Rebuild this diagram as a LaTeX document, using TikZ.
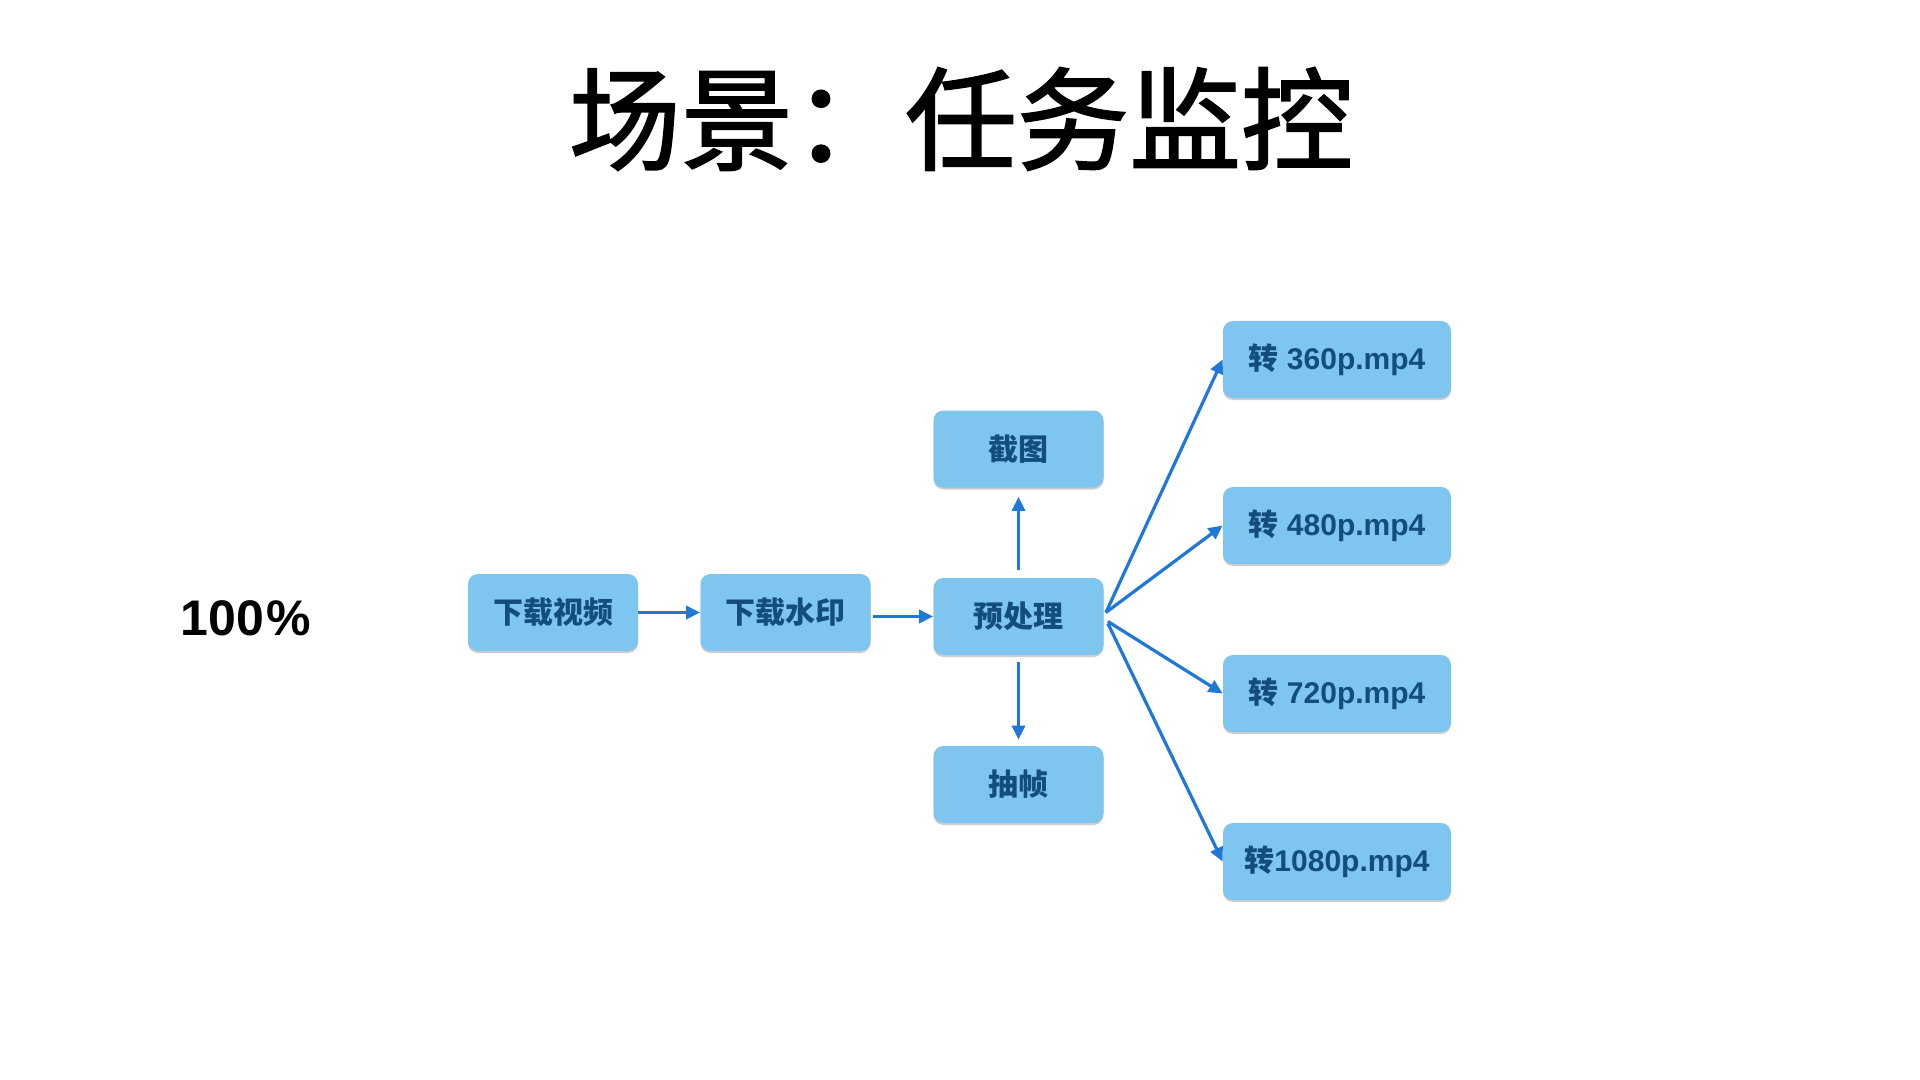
\documentclass[tikz,border=0pt]{standalone}
\usepackage{fontspec}
\setmainfont{Liberation Sans}
\newfontfamily\cjk{Noto Sans CJK SC}
\newfontfamily\cjktitle{Noto Sans CJK SC}[FakeBold=1.6]
\usetikzlibrary{arrows.meta,shadows}
\definecolor{boxfill}{RGB}{126,197,240}
\definecolor{boxtext}{RGB}{18,77,126}
\definecolor{arr}{RGB}{31,120,214}
\begin{document}
\begin{tikzpicture}[x=0.5pt,y=-0.5pt,
  box/.style={rectangle, rounded corners=5pt, fill=boxfill, minimum width=85pt, minimum height=38.5pt, inner sep=0pt,
    font=\fontsize{15}{18}\selectfont\bfseries, text=boxtext,
    drop shadow={shadow xshift=0pt, shadow yshift=-1pt, opacity=0.2, fill=black}},
  wbox/.style={box, minimum width=114pt},
  conn/.style={draw=arr, line width=1.6pt, -{Triangle[length=7pt,width=6.5pt]}}]
\useasboundingbox[fill=white] (0,0) rectangle (1920,1080);

\node (title) at (961,119) {\fontsize{56}{67}\selectfont\cjktitle 场景：任务监控};
\node (pct) at (246,618) {\fontsize{25}{30}\selectfont\bfseries 100\kern1.2pt\%};

\node[box] (dv) at (553,612.5) {\cjk 下载视频};
\node[box] (dw) at (785.5,612.5) {\cjk 下载水印};
\node[box] (pre) at (1018.5,616.5) {\cjk 预处理};
\node[box] (jt) at (1018.5,449) {\cjk 截图};
\node[box] (cz) at (1018.5,784.5) {\cjk 抽帧};
\node[wbox] (t360) at (1337,359.5) {{\cjk 转} 360p.mp4};
\node[wbox] (t480) at (1337,525.5) {{\cjk 转} 480p.mp4};
\node[wbox] (t720) at (1337,693.5) {{\cjk 转} 720p.mp4};
\node[wbox] (t1080) at (1337,861.5) {{\cjk 转}1080p.mp4};

\draw[conn] (dv.east) -- (dw.west);
\draw[conn] ([xshift=1pt]dw.east |- pre.west) -- (pre.west);
\draw[conn, shorten <=4pt, shorten >=4.5pt] (pre.north) -- (jt.south);
\draw[conn, shorten <=3.5pt, shorten >=3pt] (pre.south) -- (cz.north);
\draw[conn] ([xshift=1pt,yshift=2pt]pre.east) -- (t360.west);
\draw[conn] ([xshift=1pt,yshift=2pt]pre.east) -- (t480.west);
\draw[conn] ([xshift=2pt,yshift=-2.5pt]pre.east) -- (t720.west);
\draw[conn] ([xshift=2pt,yshift=-3.5pt]pre.east) -- (t1080.west);
\end{tikzpicture}
\end{document}
